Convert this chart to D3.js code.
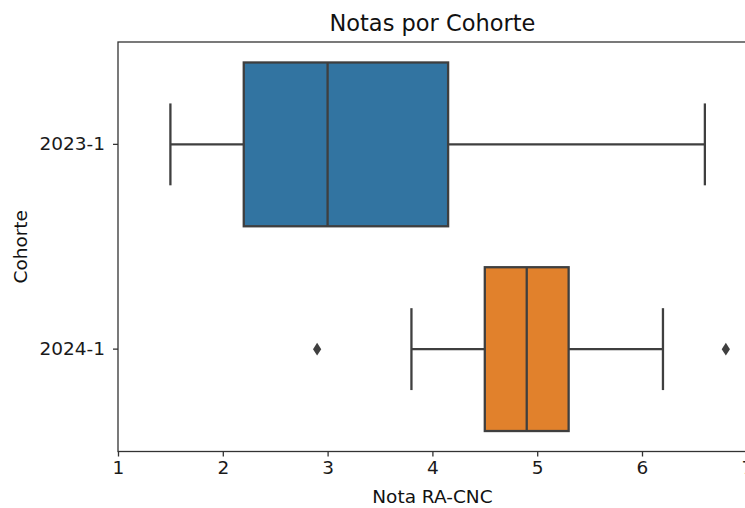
<!DOCTYPE html>
<html lang="es">
<head>
<meta charset="UTF-8">
<title>Notas por Cohorte</title>
<script src="https://d3js.org/d3.v7.min.js"></script>
<style>
  body { margin: 0; background: #fff; }
  svg { display: block; }
</style>
</head>
<body>
<svg id="chart" width="745" height="508"></svg>
<script>
// Data
const cohorts = ["2023-1", "2024-1"];
const whiskerLow = [1.5, 3.8];
const q1 = [2.2, 4.5];
const medians = [3.0, 4.9];
const q3 = [4.15, 5.3];
const whiskerHigh = [6.6, 6.2];
const outliers = [[], [2.9, 6.8]];
const colors = ["#3274a1", "#e1812c"];
const xTicks = [1, 2, 3, 4, 5, 6, 7];

const svg = d3.select("#chart");
const plot = { left: 118, right: 746.8, top: 42, bottom: 451.5 };
const lineColor = "#3f3f3f";
const font = "DejaVu Sans, sans-serif";

const x = d3.scaleLinear().domain([1, 7]).range([plot.left, plot.right]);
const y = d3.scaleBand().domain(cohorts).range([plot.top, plot.bottom]);
const boxH = y.bandwidth() * 0.8;
const capH = boxH / 2;

// boxes
cohorts.forEach((c, i) => {
    const cy = y(c) + y.bandwidth() / 2;
    const g = svg.append("g");

    // whiskers
    g.append("line")
        .attr("x1", x(whiskerLow[i])).attr("x2", x(q1[i]))
        .attr("y1", cy).attr("y2", cy);
    g.append("line")
        .attr("x1", x(q3[i])).attr("x2", x(whiskerHigh[i]))
        .attr("y1", cy).attr("y2", cy);
    // caps
    [whiskerLow[i], whiskerHigh[i]].forEach(v => {
        g.append("line")
            .attr("x1", x(v)).attr("x2", x(v))
            .attr("y1", cy - capH / 2).attr("y2", cy + capH / 2);
    });
    // box
    g.append("rect")
        .attr("x", x(q1[i]))
        .attr("y", cy - boxH / 2)
        .attr("width", x(q3[i]) - x(q1[i]))
        .attr("height", boxH)
        .attr("fill", colors[i]);
    // median
    g.append("line")
        .attr("x1", x(medians[i])).attr("x2", x(medians[i]))
        .attr("y1", cy - boxH / 2).attr("y2", cy + boxH / 2);

    g.selectAll("line, rect")
        .attr("stroke", lineColor)
        .attr("stroke-width", 2.3);

    // outliers as diamonds
    g.selectAll(".flier")
        .data(outliers[i])
        .enter()
        .append("path")
        .attr("class", "flier")
        .attr("d", d3.symbol().type(d3.symbolDiamond2).size(60))
        .attr("transform", d => `translate(${x(d)},${cy}) scale(0.85,1.3)`)
        .attr("fill", lineColor);
});

// axes
const xAxis = svg.append("g")
    .attr("transform", `translate(0,${plot.bottom})`)
    .call(d3.axisBottom(x).tickValues(xTicks).tickFormat(d3.format("d")).tickSizeOuter(0).tickSize(5).tickPadding(4));
xAxis.select(".domain").remove();

const yAxis = svg.append("g")
    .attr("transform", `translate(${plot.left},0)`)
    .call(d3.axisLeft(y).tickSize(5).tickPadding(8));
yAxis.select(".domain").remove();

[xAxis, yAxis].forEach(a => {
    a.attr("font-family", font).attr("font-size", 18.5);
    a.selectAll(".tick line").attr("stroke", "#333").attr("stroke-width", 1.3);
    a.selectAll(".tick text").attr("fill", "#1a1a1a");
});

// spines
svg.append("rect")
    .attr("x", plot.left).attr("y", plot.top)
    .attr("width", plot.right - plot.left).attr("height", plot.bottom - plot.top)
    .attr("fill", "none")
    .attr("stroke", "#333")
    .attr("stroke-width", 1.3);

// title and labels
svg.append("text")
    .attr("x", (plot.left + plot.right) / 2).attr("y", 31)
    .attr("text-anchor", "middle")
    .attr("font-family", font)
    .attr("font-size", 22.5)
    .attr("fill", "#111")
    .text("Notas por Cohorte");

svg.append("text")
    .attr("x", (plot.left + plot.right) / 2).attr("y", 503)
    .attr("text-anchor", "middle")
    .attr("font-family", font)
    .attr("font-size", 18.5)
    .attr("fill", "#111")
    .text("Nota RA-CNC");

svg.append("text")
    .attr("transform", `translate(27,${(plot.top + plot.bottom) / 2}) rotate(-90)`)
    .attr("text-anchor", "middle")
    .attr("font-family", font)
    .attr("font-size", 18.5)
    .attr("fill", "#111")
    .text("Cohorte");
</script>
</body>
</html>
